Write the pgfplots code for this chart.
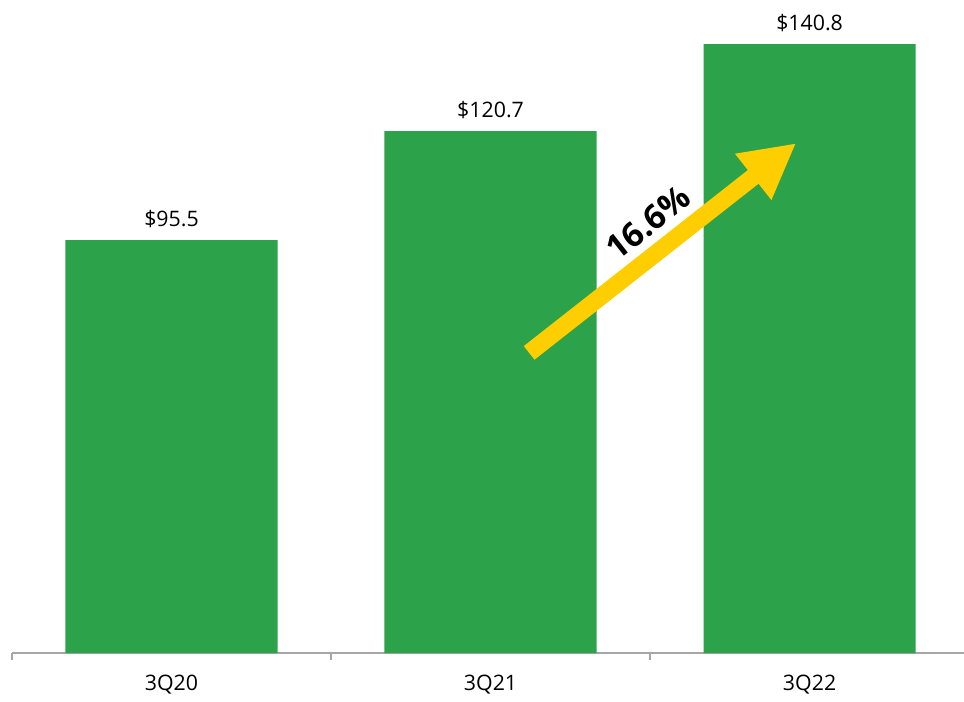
\documentclass[border=0pt]{standalone}
\usepackage{fontspec}
\setmainfont{Open Sans}
\usepackage{pgfplots}
\pgfplotsset{compat=1.18}
\usetikzlibrary{arrows.meta}
\definecolor{barg}{RGB}{44,162,74}
\definecolor{arry}{RGB}{255,206,0}
\definecolor{axg}{RGB}{166,166,166}
\begin{document}
\begin{tikzpicture}
\path[use as bounding box] (0,0) rectangle (723pt,525.75pt);
\begin{axis}[
  at={(9pt,36pt)}, anchor=south west,
  width=714pt, height=489.75pt, scale only axis,
  xmin=-0.5, xmax=2.484, ymin=0, ymax=151,
  axis x line*=bottom, axis y line=none,
  axis line style={axg, line width=1.1pt, -},
  xtick={0,1,2}, xticklabels={3Q20,3Q21,3Q22},
  major tick length=0pt,
  minor xtick={-0.5,0.5,1.5}, minor tick length=5.5pt, tick align=outside,
  tick style={axg, line width=1.1pt},
  xticklabel style={font=\fontsize{16}{19}\selectfont, yshift=-13pt, text=black},
  /pgf/number format/assume math mode=true,
  ybar, bar width=0.665,
  nodes near coords={\$\pgfmathprintnumber[fixed,precision=1,fixed zerofill]{\pgfplotspointmeta}},
  every node near coord/.append style={font=\fontsize{16}{19}\selectfont, yshift=6pt, text=black},
  clip=false,
]
\addplot[fill=barg, draw=none] coordinates {(0,95.5) (1,120.7) (2,140.8)};
\draw[arry, line width=13pt, -{Triangle[length=41pt,width=41pt]}] (axis cs:1.121,69.4) -- (axis cs:1.958,117.9);
\node[rotate=38.2, font=\fontsize{25}{29}\selectfont\bfseries, inner sep=0pt] at (axis cs:1.494,99.5) {16.6\%};
\end{axis}
\end{tikzpicture}
\end{document}
